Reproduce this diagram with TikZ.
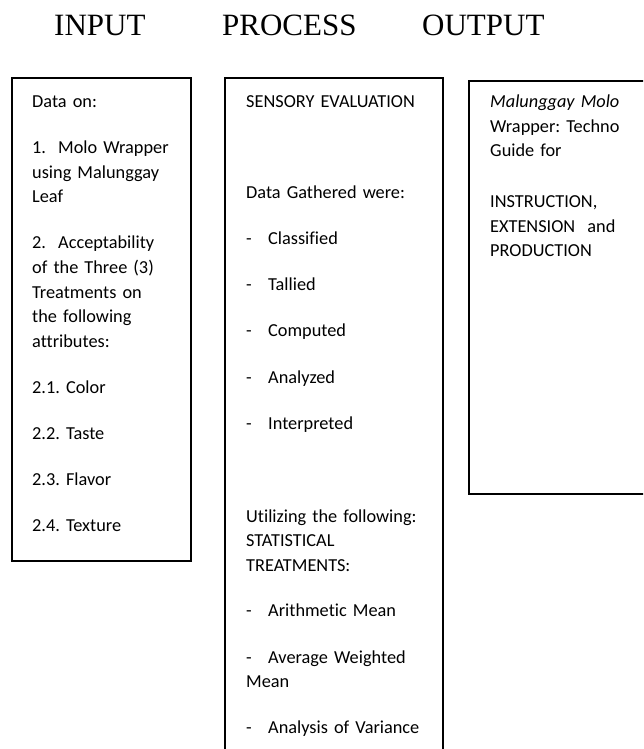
\documentclass[tikz,border=0pt]{standalone}
\usepackage{fontspec}
\setmainfont[Ligatures=NoCommon]{Carlito}
\newfontfamily\headfont{Liberation Serif}
\newcommand{\numitem}[1]{\makebox[26pt][l]{#1}}
\newcommand{\dashitem}{\makebox[22pt][l]{-}}
\frenchspacing

\begin{document}
\begin{tikzpicture}[x=1pt, y=-1pt,
		panel/.style={draw, line width=1.6pt, anchor=north west, inner sep=0pt, outer sep=0pt},
		body/.style={anchor=base west, inner sep=0pt, align=left, font=\fontsize{18.3}{24.5}\selectfont},
		head/.style={anchor=base west, inner sep=0pt, font=\headfont\fontsize{31}{36}\selectfont}]
		\useasboundingbox (0,0) rectangle (643,749);
		\clip (0,0) rectangle (643,749);
		
		\node[head] (input) at (54,36) {INPUT};
		\node[head] (process) at (222,36) {PROCESS};
		\node[head] (output) at (422,36) {OUTPUT};
		
		\node[panel, minimum width=179pt, minimum height=483pt] (inputbox) at (12,78) {};
		\node[panel, minimum width=218pt, minimum height=720pt] (processbox) at (225,78) {};
		\node[panel, minimum width=220pt, minimum height=413pt] (outputbox) at (469,81) {};
		
		\node[body, text width=158pt] (inputtext) at (32,108) {Data on:\\[21.5pt]
			\numitem{1.}Molo Wrapper\\
			using Malunggay\\
			Leaf\\[21.5pt]
			\numitem{2.}Acceptability\\
			of the Three (3)\\
			Treatments on\\
			the following\\
			attributes:\\[21.5pt]
			2.1. Color\\[21.5pt]
			2.2. Taste\\[21.5pt]
			2.3. Flavor\\[21.5pt]
			2.4. Texture};
		
		\node[body, text width=196pt] (processtext) at (246,108) {SENSORY EVALUATION\\[65.5pt]
			Data Gathered were:\\[22.5pt]
			\dashitem Classified\\[21.5pt]
			\dashitem Tallied\\[21.5pt]
			\dashitem Computed\\[21.5pt]
			\dashitem Analyzed\\[21.5pt]
			\dashitem Interpreted\\[68.5pt]
			Utilizing the following:\\
			STATISTICAL\\
			TREATMENTS:\\[20.5pt]
			\dashitem Arithmetic Mean\\[22.5pt]
			\dashitem Average Weighted\\
			Mean\\[21.5pt]
			\dashitem Analysis of Variance};
		
		\node[body, text width=150pt] (outputtext) at (490,108) {\textit{Malunggay Molo}\\
			Wrapper: Techno\\
			Guide for\\[26.5pt]
			INSTRUCTION,\\
			EXTENSION\ \ and\\
			PRODUCTION};
	\end{tikzpicture}
\end{document}
